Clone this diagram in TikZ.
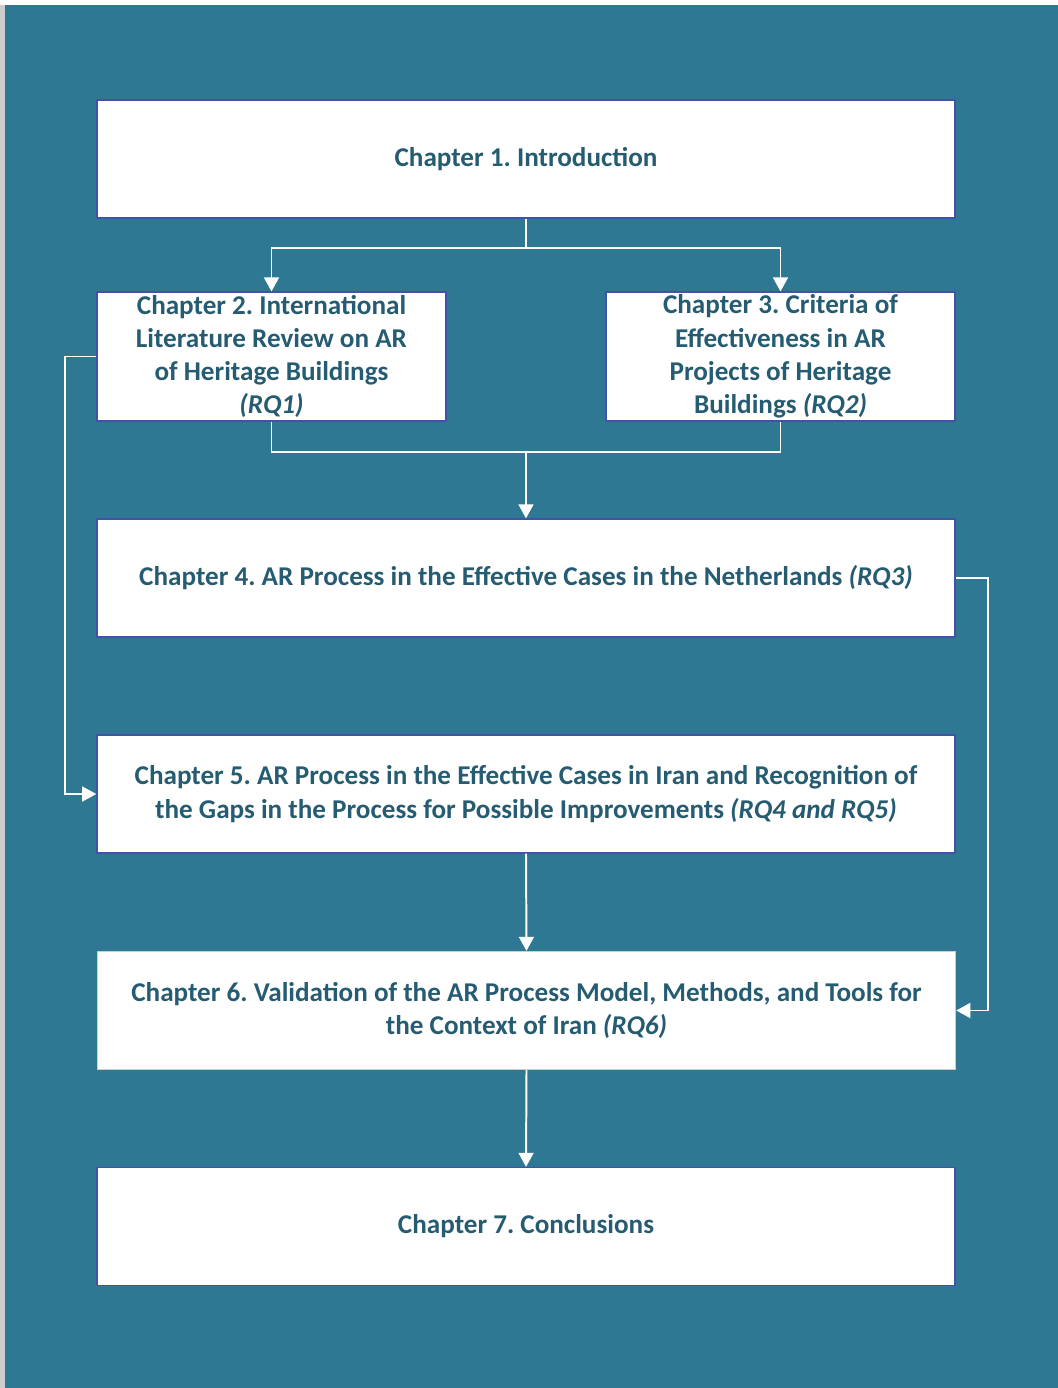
\documentclass[tikz,border=0pt]{standalone}
\usepackage{fontspec}
\setmainfont{Carlito}
\usepackage{xcolor}
\usetikzlibrary{positioning,calc,arrows.meta}
\definecolor{backteal}{RGB}{46,120,148}
\definecolor{chaptext}{RGB}{38,92,114}
\definecolor{boxline}{RGB}{66,82,172}
\definecolor{greyline}{RGB}{205,205,205}
\tikzset{
	chapter/.style = {draw=boxline, fill=white, text=chaptext, font=\fontsize{19.3}{23.6}\selectfont\bfseries\frenchspacing, align=center, inner sep=0, line width=0.9pt},
	wide/.style = {minimum width=21.45cm, minimum height=2.95cm},
	half/.style = {minimum width=8.72cm, minimum height=3.22cm},
	link/.style = {draw=white, line width=1.4pt},
	flow/.style = {link, -{Triangle[width=10.6pt,length=10pt]}}
}
\begin{document}
\begin{tikzpicture}[x=0.025cm, y=-0.025cm]
	\useasboundingbox (0,0) rectangle (1058,1388);
	\fill[white] (0,0) rectangle (1058,1388);
	\fill[greyline] (0,5) rectangle (5,1388);
	\fill[backteal] (5,5) rectangle (1058,1388);
	
	\node [chapter, wide] (ch1) at (526,159) {Chapter 1. Introduction};
	\node [chapter, half] (ch2) at (271.5,356.5) {Chapter 2. International\\Literature Review on AR\\of Heritage Buildings\\\textit{(RQ1)}};
	\node [chapter, half] (ch3) at (780.5,356.5) {Chapter 3. Criteria of\\Effectiveness in AR\\Projects of Heritage\\Buildings \textit{(RQ2)}};
	\node [chapter, wide] (ch4) at (526,578) {Chapter 4. AR Process in the Effective Cases in the Netherlands \textit{(RQ3)}};
	\node [chapter, wide] (ch5) at (526,794) {Chapter 5. AR Process in the Effective Cases in Iran and Recognition of\\the Gaps in the Process for Possible Improvements \textit{(RQ4 and RQ5)}};
	\node [chapter, wide, draw=greyline] (ch6) at (526.5,1010.5) {Chapter 6. Validation of the AR Process Model, Methods, and Tools for\\the Context of Iran \textit{(RQ6)}};
	\node [chapter, wide] (ch7) at (526,1226.5) {Chapter 7. Conclusions};
	
	% split and merge points
	\coordinate (split) at (526,248);
	\coordinate (merge) at (526,452);
	
	\draw [link] (ch1.south) -- (split);
	\draw [flow] (split) -| (ch2.north);
	\draw [flow] (split) -| (ch3.north);
	\draw [link] (ch2.south) |- (merge) -| (ch3.south);
	\draw [flow] (merge) -- (ch4.north);
	\draw [flow] (ch2.west) -- ++(-31,0) |- (ch5.west);
	\draw [flow] (ch4.east) -- ++(32,0) |- (ch6.east);
	\draw [flow] (ch5.south) -- (ch6.north);
	\draw [flow] (ch6.south) -- (ch7.north);
\end{tikzpicture}
\end{document}
